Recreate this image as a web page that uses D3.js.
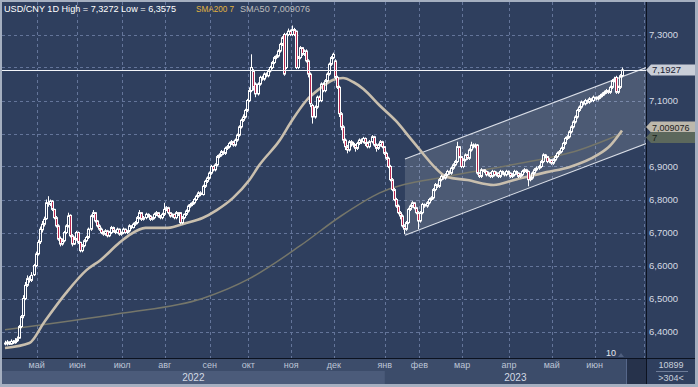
<!DOCTYPE html>
<html><head><meta charset="utf-8">
<script src="https://cdn.jsdelivr.net/npm/d3@7"></script>
<style>html,body{margin:0;padding:0;background:#a5afc0;overflow:hidden}svg{display:block;font-family:"Liberation Sans",Arial,sans-serif}</style>
</head><body><svg id="c" width="698" height="387"></svg>
<script>
// ---------- DATA ----------
const symbol = "USD/CNY 1D";
const monthLabels = ["май","июн","июл","авг","сен","окт","ноя","дек","янв","фев","мар","апр","май","июн"];
const monthStart  = [16,36,58,79,101,120,141,162,187,204,225,248,269,290];
const yearLabels = ["2022","2023"];
const yearStart  = [0,187];
const yTicks = [6.4,6.5,6.6,6.7,6.8,6.9,7.0,7.1,7.2,7.3];
const volumeText = "10899";
const barsText = ">304<";
const markerText = "10";

const open = [
6.362,6.365,6.368,6.362,6.370,6.366,6.372,
6.380,6.415,6.448,
6.500,6.540,6.562,6.555,6.572,6.600,6.635,6.672,6.708,6.725,
6.742,6.790,6.785,6.795,6.770,6.745,6.720,6.682,6.665,6.675,
6.700,6.720,6.752,6.690,6.665,6.680,6.700,6.670,6.645,6.660,
6.675,6.685,6.710,6.750,6.760,6.735,6.720,6.710,6.700,6.695,
6.705,6.690,6.700,6.715,6.705,6.700,6.710,6.695,6.700,6.710,
6.700,6.705,6.720,6.715,6.725,6.730,6.745,6.760,6.740,6.745,
6.755,6.750,6.740,6.745,6.755,6.760,6.750,6.745,6.755,6.770,
6.775,6.760,6.750,6.755,6.745,6.760,6.760,6.730,6.745,6.755,
6.765,6.780,6.785,6.790,6.800,6.810,6.820,6.815,6.840,6.855,
6.865,6.880,6.900,6.890,6.905,6.930,6.935,6.945,6.940,6.955,
6.960,6.970,6.975,6.965,6.980,6.995,7.020,7.040,7.050,7.070,
7.100,7.130,7.190,7.150,7.120,7.150,7.170,7.165,7.180,7.175,
7.190,7.200,7.215,7.230,7.235,7.250,7.270,7.300,7.200,7.300,
7.310,7.300,7.315,7.310,7.200,7.230,7.260,7.240,7.250,7.220,
7.180,7.085,7.050,7.080,7.110,7.100,7.150,7.130,7.160,7.180,
7.210,7.230,7.220,7.170,7.140,7.060,7.020,6.980,6.960,6.950,
6.975,6.970,6.965,6.955,6.970,6.980,6.975,6.985,6.970,6.960,
6.975,6.990,6.965,6.955,6.965,6.975,6.960,6.940,6.925,6.900,
6.860,6.830,6.800,6.780,6.760,6.750,6.720,6.710,6.730,6.770,
6.780,6.790,6.775,6.760,6.735,6.760,6.785,6.780,6.790,6.800,
6.805,6.830,6.845,6.840,6.860,6.870,6.865,6.875,6.885,6.880,
6.895,6.905,6.915,6.960,6.930,6.900,6.920,6.935,6.925,6.950,
6.965,6.960,6.965,6.880,6.870,6.890,6.885,6.875,6.880,6.870,
6.885,6.875,6.880,6.870,6.885,6.880,6.875,6.885,6.880,6.870,
6.875,6.885,6.880,6.870,6.875,6.885,6.890,6.885,6.860,6.865,
6.880,6.890,6.895,6.900,6.915,6.935,6.930,6.915,6.920,6.910,
6.920,6.930,6.940,6.945,6.955,6.970,6.985,6.990,7.005,7.020,
7.035,7.050,7.070,7.080,7.095,7.090,7.100,7.095,7.105,7.100,
7.110,7.105,7.110,7.115,7.120,7.125,7.130,7.125,7.140,7.160,
7.170,7.125,7.140,7.175];

const high = [
6.372,6.374,6.370,6.376,6.374,6.380,6.385,
6.420,6.450,6.510,
6.550,6.570,6.568,6.580,6.605,6.642,6.678,6.718,6.735,6.748,
6.800,6.810,6.800,6.798,6.772,6.750,6.725,6.688,6.682,6.705,
6.725,6.760,6.755,6.695,6.688,6.705,6.703,6.672,6.665,6.680,
6.690,6.715,6.755,6.768,6.762,6.738,6.725,6.715,6.705,6.710,
6.708,6.705,6.720,6.718,6.708,6.715,6.712,6.703,6.715,6.712,
6.708,6.725,6.722,6.730,6.735,6.750,6.768,6.762,6.750,6.760,
6.758,6.753,6.748,6.760,6.765,6.762,6.753,6.760,6.790,6.780,
6.778,6.762,6.758,6.757,6.765,6.762,6.762,6.750,6.758,6.770,
6.785,6.790,6.795,6.805,6.815,6.825,6.825,6.845,6.860,6.870,
6.885,6.905,6.903,6.910,6.935,6.940,6.950,6.948,6.960,6.965,
6.975,6.980,6.978,6.985,7.000,7.025,7.045,7.058,7.075,7.105,
7.140,7.240,7.195,7.155,7.155,7.175,7.175,7.185,7.185,7.195,
7.205,7.220,7.235,7.240,7.255,7.275,7.295,7.305,7.305,7.318,
7.315,7.3272,7.320,7.312,7.235,7.265,7.262,7.255,7.255,7.225,
7.185,7.090,7.085,7.115,7.115,7.155,7.155,7.165,7.185,7.215,
7.235,7.245,7.225,7.175,7.145,7.065,7.025,6.985,6.965,6.980,
6.980,6.975,6.968,6.975,6.985,6.985,6.990,6.988,6.975,6.980,
6.995,6.993,6.970,6.970,6.980,6.978,6.962,6.945,6.930,6.905,
6.865,6.835,6.805,6.785,6.765,6.755,6.725,6.735,6.775,6.785,
6.795,6.792,6.778,6.765,6.765,6.790,6.788,6.795,6.805,6.810,
6.835,6.850,6.848,6.865,6.875,6.872,6.880,6.890,6.888,6.900,
6.910,6.920,6.975,6.962,6.932,6.925,6.940,6.938,6.955,6.975,
6.970,6.970,6.968,6.882,6.895,6.892,6.888,6.885,6.883,6.890,
6.888,6.885,6.882,6.890,6.888,6.882,6.890,6.888,6.882,6.880,
6.890,6.888,6.882,6.880,6.890,6.895,6.893,6.888,6.870,6.885,
6.895,6.900,6.905,6.920,6.940,6.938,6.932,6.925,6.922,6.925,
6.935,6.945,6.950,6.960,6.975,6.990,6.995,7.010,7.025,7.040,
7.055,7.075,7.085,7.100,7.098,7.105,7.103,7.110,7.108,7.115,
7.112,7.115,7.120,7.125,7.130,7.135,7.133,7.145,7.165,7.172,
7.175,7.145,7.180,7.200];

const low = [
6.358,6.3575,6.359,6.360,6.362,6.363,6.368,
6.378,6.410,6.440,
6.495,6.535,6.548,6.550,6.568,6.595,6.630,6.665,6.700,6.718,
6.738,6.778,6.780,6.765,6.740,6.715,6.675,6.658,6.660,6.670,
6.695,6.715,6.685,6.658,6.662,6.675,6.665,6.640,6.640,6.655,
6.670,6.680,6.705,6.745,6.730,6.715,6.705,6.695,6.690,6.690,
6.685,6.686,6.695,6.700,6.695,6.697,6.690,6.690,6.695,6.696,
6.695,6.700,6.710,6.712,6.720,6.725,6.740,6.735,6.736,6.740,
6.745,6.735,6.736,6.740,6.750,6.745,6.740,6.740,6.750,6.765,
6.755,6.745,6.745,6.740,6.740,6.750,6.725,6.725,6.740,6.750,
6.760,6.775,6.780,6.785,6.795,6.805,6.810,6.812,6.835,6.850,
6.860,6.875,6.885,6.885,6.900,6.925,6.930,6.935,6.935,6.950,
6.955,6.965,6.960,6.960,6.975,6.990,7.015,7.035,7.045,7.065,
7.095,7.125,7.130,7.110,7.115,7.145,7.160,7.160,7.170,7.170,
7.185,7.195,7.210,7.225,7.230,7.245,7.265,7.175,7.195,7.295,
7.295,7.295,7.295,7.195,7.195,7.225,7.235,7.235,7.215,7.170,
7.080,7.030,7.045,7.075,7.095,7.095,7.125,7.125,7.155,7.175,
7.205,7.225,7.165,7.135,7.050,7.010,6.970,6.950,6.940,6.945,
6.960,6.958,6.945,6.950,6.965,6.968,6.970,6.962,6.955,6.955,
6.970,6.960,6.945,6.950,6.960,6.955,6.935,6.920,6.895,6.855,
6.825,6.795,6.775,6.755,6.740,6.715,6.695,6.705,6.725,6.765,
6.775,6.770,6.755,6.710,6.730,6.755,6.775,6.775,6.785,6.795,
6.800,6.825,6.835,6.835,6.855,6.860,6.860,6.870,6.875,6.875,
6.890,6.900,6.910,6.925,6.895,6.895,6.915,6.920,6.920,6.945,
6.955,6.955,6.875,6.865,6.865,6.880,6.870,6.870,6.865,6.865,
6.870,6.870,6.865,6.865,6.875,6.870,6.870,6.875,6.865,6.865,
6.870,6.875,6.865,6.865,6.870,6.880,6.880,6.840,6.855,6.860,
6.875,6.885,6.890,6.895,6.910,6.925,6.910,6.910,6.905,6.905,
6.915,6.925,6.935,6.940,6.950,6.965,6.980,6.985,7.000,7.015,
7.030,7.045,7.065,7.075,7.085,7.085,7.090,7.090,7.095,7.095,
7.100,7.100,7.105,7.110,7.115,7.120,7.120,7.120,7.135,7.155,
7.120,7.120,7.135,7.170];

const close = [
6.365,6.368,6.362,6.370,6.366,6.372,6.378,
6.415,6.445,6.500,
6.540,6.560,6.555,6.570,6.600,6.635,6.670,6.710,6.725,6.740,
6.790,6.785,6.795,6.770,6.745,6.720,6.680,6.665,6.675,6.700,
6.720,6.750,6.690,6.665,6.680,6.700,6.670,6.645,6.660,6.675,
6.685,6.710,6.750,6.760,6.735,6.720,6.710,6.700,6.695,6.705,
6.690,6.700,6.715,6.705,6.700,6.710,6.695,6.700,6.710,6.700,
6.705,6.720,6.715,6.725,6.730,6.745,6.760,6.740,6.745,6.755,
6.750,6.740,6.745,6.755,6.760,6.750,6.745,6.755,6.770,6.775,
6.760,6.750,6.755,6.745,6.760,6.755,6.730,6.745,6.755,6.765,
6.780,6.785,6.790,6.800,6.810,6.820,6.815,6.840,6.855,6.865,
6.880,6.900,6.890,6.905,6.930,6.935,6.945,6.940,6.955,6.960,
6.970,6.975,6.965,6.980,6.995,7.020,7.040,7.050,7.070,7.100,
7.130,7.200,7.140,7.120,7.150,7.170,7.165,7.180,7.175,7.190,
7.200,7.215,7.230,7.235,7.250,7.270,7.290,7.180,7.300,7.310,
7.300,7.315,7.300,7.200,7.230,7.260,7.240,7.250,7.220,7.180,
7.090,7.050,7.080,7.110,7.100,7.150,7.130,7.160,7.180,7.210,
7.230,7.240,7.170,7.140,7.060,7.020,6.980,6.960,6.950,6.975,
6.970,6.965,6.955,6.970,6.980,6.975,6.985,6.970,6.960,6.975,
6.990,6.965,6.955,6.965,6.975,6.960,6.940,6.925,6.900,6.860,
6.830,6.800,6.780,6.760,6.750,6.720,6.710,6.730,6.770,6.780,
6.790,6.775,6.760,6.735,6.760,6.785,6.780,6.790,6.800,6.805,
6.830,6.845,6.840,6.860,6.870,6.865,6.875,6.885,6.880,6.895,
6.905,6.915,6.960,6.930,6.900,6.920,6.935,6.925,6.950,6.965,
6.960,6.965,6.880,6.870,6.890,6.885,6.875,6.880,6.870,6.885,
6.875,6.880,6.870,6.885,6.880,6.875,6.885,6.880,6.870,6.875,
6.885,6.880,6.870,6.875,6.885,6.890,6.885,6.860,6.865,6.880,
6.890,6.895,6.900,6.915,6.935,6.930,6.915,6.920,6.910,6.920,
6.930,6.940,6.945,6.955,6.970,6.985,6.990,7.005,7.020,7.035,
7.050,7.070,7.080,7.095,7.090,7.100,7.095,7.105,7.100,7.110,
7.105,7.110,7.115,7.120,7.125,7.130,7.125,7.140,7.160,7.165,
7.125,7.140,7.175,7.1927];

// moving averages read at sample bars
const sma50Idx = [0,12,19,30,40,47,56,61,69,80,89,97,104,112,120,125,135,141,148,155,161,166,171,176,184,192,199,205,211,217,227,240,250,266,277,291,297,303];
const sma50Val = [6.350,6.365,6.426,6.517,6.586,6.617,6.668,6.692,6.714,6.714,6.729,6.744,6.768,6.805,6.859,6.905,6.980,7.040,7.100,7.138,7.162,7.168,7.156,7.135,7.085,7.038,6.986,6.941,6.898,6.868,6.859,6.844,6.859,6.883,6.898,6.935,6.962,7.009076];
const sma200Idx = [0,57,97,120,145,165,184,217,249,282,303];
const sma200Val = [6.405,6.455,6.500,6.560,6.660,6.750,6.820,6.870,6.905,6.950,7.000];

// trend channel (bar index, upper, lower)
const channelIdx = [196.4, 315];
const channelTop = [6.923, 7.200];
const channelBot = [6.692, 6.970];

// ---------- LAYOUT ----------
const W = 698, H = 387;
const panel = {x0:2, y0:2, x1:695, y1:384};
const plot = {x0:2, x1:646, y0:2, y1:358};
const N = close.length;
const fmt4 = v => d3.format(".4f")(v).replace(".", ",");
const fmtS = v => d3.format(".6~f")(v).replace(".", ",");

const x = d3.scaleLinear().domain([0, N-1]).range([5, 622]);
const y = d3.scaleLinear().domain([6.4, 7.3]).range([331.5, 34.5]);

const svg = d3.select("#c");
svg.append("rect").attr("width",W).attr("height",H).attr("fill","#a5afc0");
svg.append("rect").attr("x",panel.x0).attr("y",panel.y0).attr("width",panel.x1-panel.x0).attr("height",panel.y1-panel.y0).attr("fill","#2f3f5e");

svg.append("defs").append("clipPath").attr("id","pc").append("rect")
  .attr("x",plot.x0).attr("y",plot.y0).attr("width",plot.x1-plot.x0).attr("height",plot.y1-plot.y0);
const P = svg.append("g").attr("clip-path","url(#pc)");

// grid
const gridC = "#64759a";
P.append("g").selectAll("line").data(yTicks).join("line")
  .attr("x1",plot.x0).attr("x2",plot.x1-1).attr("y1",d=>Math.round(y(d))+0.5).attr("y2",d=>Math.round(y(d))+0.5)
  .attr("stroke",gridC).attr("stroke-dasharray","3,3");
P.append("g").selectAll("line").data(monthStart).join("line")
  .attr("x1",d=>Math.round(x(d-0.5))+0.5).attr("x2",d=>Math.round(x(d-0.5))+0.5)
  .attr("y1",plot.y0).attr("y2",plot.y1)
  .attr("stroke",gridC).attr("stroke-dasharray","3,3");
P.append("line").attr("x1",644.5).attr("x2",644.5).attr("y1",plot.y0).attr("y2",plot.y1)
  .attr("stroke",gridC).attr("stroke-dasharray","3,3");

// channel
const cx0 = x(channelIdx[0]), cx1 = x(channelIdx[1]);
P.append("path")
  .attr("d", `M${cx0},${y(channelTop[0])}L${cx1},${y(channelTop[1])}L${cx1},${y(channelBot[1])}L${cx0},${y(channelBot[0])}Z`)
  .attr("fill","rgba(255,255,255,0.14)");
[channelTop, channelBot].forEach(arr => {
  P.append("line").attr("x1",cx0).attr("y1",y(arr[0])).attr("x2",cx1).attr("y2",y(arr[1]))
    .attr("stroke","rgba(235,238,245,0.9)").attr("stroke-width",1.1);
});

// SMAs
const line = d3.line().curve(d3.curveMonotoneX);
P.append("path").attr("d", line(sma200Idx.map((d,k)=>[x(d), y(sma200Val[k])])))
  .attr("fill","none").attr("stroke","#75766a").attr("stroke-width",1.5);
P.append("path").attr("d", line(sma50Idx.map((d,k)=>[x(d), y(sma50Val[k])])))
  .attr("fill","none").attr("stroke","#c9bfae").attr("stroke-width",2.6);

// candles
const idx = d3.range(N);
const cg = P.append("g");
const cxp = i => Math.round(x(i));
cg.selectAll("line.wu").data(idx).join("line")
  .attr("x1",i=>cxp(i)+0.5).attr("x2",i=>cxp(i)+0.5)
  .attr("y1",i=>y(high[i])).attr("y2",i=>y(Math.max(open[i],close[i])))
  .attr("stroke","#fff");
cg.selectAll("line.wd").data(idx).join("line")
  .attr("x1",i=>cxp(i)+0.5).attr("x2",i=>cxp(i)+0.5)
  .attr("y1",i=>y(Math.min(open[i],close[i]))).attr("y2",i=>y(low[i]))
  .attr("stroke","#fff");
cg.selectAll("rect").data(idx).join("rect")
  .attr("x",i=>cxp(i)-0.5).attr("width",2)
  .attr("y",i=>y(Math.max(open[i],close[i])))
  .attr("height",i=>Math.max(1, y(Math.min(open[i],close[i]))-y(Math.max(open[i],close[i]))))
  .attr("fill",i=>close[i]<open[i]?"#b9284f":"none")
  .attr("stroke","#fff").attr("stroke-width",1);

// last price line
const last = close[N-1];
P.append("line").attr("x1",plot.x0).attr("x2",plot.x1).attr("y1",Math.round(y(last))+0.5).attr("y2",Math.round(y(last))+0.5)
  .attr("stroke","#f4f6fa").attr("stroke-width",1);

// marker "10"
svg.append("text").attr("x",x(N-1)-6).attr("y",plot.y1-2).attr("text-anchor","end")
  .attr("font-size",9).attr("fill","#e6e9ef").text(markerText);
svg.append("path").attr("d",`M${x(N-1)-4},${plot.y1-1}L${x(N-1)-1},${plot.y1-5}L${x(N-1)+2},${plot.y1-1}Z`).attr("fill","#4f5f7e");

// bottom axis area
const axTop = plot.y1+1, midY = 371, axBot = panel.y1;
svg.append("rect").attr("x",panel.x0).attr("y",axTop).attr("width",plot.x1-panel.x0).attr("height",axBot-axTop).attr("fill","#3c4c6a");
const yb0 = panel.x0, yb1 = x(yearStart[1]-0.5);
svg.append("rect").attr("x",yb0).attr("y",midY).attr("width",yb1-yb0).attr("height",axBot-midY).attr("fill","#4b5b7a");
svg.append("rect").attr("x",x(N-1)+4).attr("y",axTop).attr("width",plot.x1-(x(N-1)+4)).attr("height",axBot-axTop).attr("fill","#26324b");
svg.append("line").attr("x1",x(N-1)+4.5).attr("x2",x(N-1)+4.5).attr("y1",axTop).attr("y2",axBot).attr("stroke","#56678a");
svg.append("g").selectAll("text").data(monthLabels).join("text")
  .attr("x",(d,k)=>x(monthStart[k]-0.5)).attr("y",368).attr("text-anchor","middle")
  .attr("font-size",9).attr("fill","#bcc5d6").text(d=>d);
svg.append("g").selectAll("text").data(yearLabels).join("text")
  .attr("x",(d,k)=>{ const a = k===0?panel.x0:x(yearStart[k]-0.5); const b = k===0?x(yearStart[1]-0.5):plot.x1; return (a+b)/2; })
  .attr("y",381).attr("text-anchor","middle").attr("font-size",10).attr("fill","#d3d9e4").text(d=>d);

// axis separators
svg.append("line").attr("x1",panel.x0).attr("x2",panel.x1).attr("y1",358.5).attr("y2",358.5).attr("stroke","#0c1220");
svg.append("line").attr("x1",646.5).attr("x2",646.5).attr("y1",panel.y0).attr("y2",panel.y1).attr("stroke","#0c1220");

// right axis labels (hidden where a tag sits)
const sma50Last = sma50Val[sma50Val.length-1], sma200Last = sma200Val[sma200Val.length-1];
svg.append("g").selectAll("text").data(yTicks.filter(v=>Math.abs(y(v)-y(last))>6 && Math.abs(y(v)-y(sma200Last))>6)).join("text")
  .attr("x",649).attr("y",d=>y(d)+3.5).attr("font-size",9.5).attr("fill","#d5dae3").text(fmt4);

// tags
function tag(cy, bg, txt, tc, fs){
  svg.append("path").attr("d",`M646,${cy}L651,${cy-5.5}L695,${cy-5.5}L695,${cy+5.5}L651,${cy+5.5}Z`).attr("fill",bg);
  svg.append("text").attr("x",652).attr("y",cy+3.5).attr("font-size",fs||9.5).attr("fill",tc).text(txt);
}
tag(y(last), "#c9ced8", fmt4(last), "#1b2233");
tag(y(sma50Last)-3.5, "#bdb8ac", fmtS(sma50Last), "#222", 9);
tag(y(sma200Last)+4, "#5c685c", fmtS(sma200Last), "#1a1e1a");

// bottom-right box
svg.append("text").attr("x",671).attr("y",368).attr("text-anchor","middle").attr("font-size",9).attr("fill","#c8cfdb").text(volumeText);
svg.append("line").attr("x1",656).attr("x2",688).attr("y1",371.5).attr("y2",371.5).attr("stroke","#6d7c98");
svg.append("text").attr("x",671).attr("y",381).attr("text-anchor","middle").attr("font-size",9).attr("fill","#c8cfdb").text(barsText);

// legend
const lg = svg.append("g").attr("font-size",9.3);
lg.append("text").attr("x",4).attr("y",12).attr("fill","#ffffff")
  .attr("textLength",172).attr("lengthAdjust","spacingAndGlyphs")
  .text(`${symbol} High = ${fmt4(d3.max(high))} Low = ${fmt4(d3.min(low))}`);
lg.append("text").attr("x",196).attr("y",12).attr("fill","#e3b440")
  .attr("textLength",38).attr("lengthAdjust","spacingAndGlyphs")
  .text(`SMA200 ${fmtS(sma200Last)}`);
lg.append("text").attr("x",240).attr("y",12).attr("fill","#bdbdbd")
  .attr("textLength",70).attr("lengthAdjust","spacingAndGlyphs")
  .text(`SMA50 ${fmtS(sma50Last)}`);
</script></body></html>
